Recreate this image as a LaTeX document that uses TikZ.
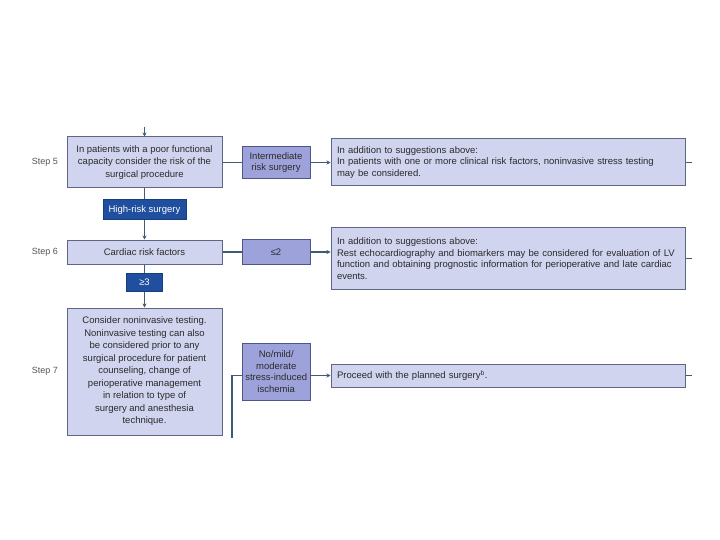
\documentclass[tikz,border=0pt]{standalone}
\usepackage{xcolor}
\usepackage{fontspec}
\setmainfont{Liberation Sans}
\usepackage{tikz}
\usetikzlibrary{positioning,arrows.meta}
\definecolor{boxfill}{HTML}{D0D4EE}
\definecolor{boxline}{HTML}{5E6585}
\definecolor{midfill}{HTML}{9DA3DA}
\definecolor{midline}{HTML}{4C5788}
\definecolor{darkfill}{HTML}{1F4F9E}
\definecolor{darkline}{HTML}{173D7A}
\definecolor{linkcol}{HTML}{405A78}
\definecolor{txt}{HTML}{2B2B2B}
\tikzset{
  >={Stealth[length=4pt,width=4pt]},
  stepbox/.style={draw=boxline, fill=boxfill, line width=1pt, minimum width=155pt, align=center, text=txt, font=\fontsize{9.5}{12.5}\selectfont},
  midbox/.style={draw=midline, fill=midfill, line width=1pt, minimum width=68pt, align=center, text=txt, font=\fontsize{9.5}{11.5}\selectfont},
  darkbox/.style={draw=darkline, fill=darkfill, line width=1pt, text=white, align=center, font=\fontsize{9.5}{11.5}\selectfont},
  notebox/.style={draw=boxline, fill=boxfill, line width=1pt, text width=342pt, inner xsep=6pt, align=left, text=txt, font=\fontsize{9.5}{11.5}\selectfont},
  steplabel/.style={text=txt!80, font=\fontsize{9}{11}\selectfont},
  link/.style={draw=linkcol, line width=1.2pt}
}

\begin{document}
\begin{tikzpicture}[x=1pt, y=-1pt]
\useasboundingbox (0,0) rectangle (720,540);

% left column
\node[stepbox, minimum height=51pt] (s5) at (144.5,162.5) {In patients with a poor functional\\capacity consider the risk of the\\surgical procedure};
\node[darkbox, minimum width=83pt, minimum height=20pt, below=11pt of s5] (high) {High-risk surgery};
\node[stepbox, minimum height=24pt, below=19pt of high] (s6) {Cardiac risk factors};
\node[darkbox, minimum width=36pt, minimum height=18pt, below=8pt of s6] (ge3) {≥3};
\node[stepbox, minimum height=127pt, below=16pt of ge3] (s7) {Consider noninvasive testing.\\Noninvasive testing can also\\be considered prior to any\\surgical procedure for patient\\counseling, change of\\perioperative management\\in relation to type of\\surgery and anesthesia\\technique.};

\node[steplabel, left=5pt of s5] (l5) {Step 5};
\node[steplabel, left=5pt of s6] (l6) {Step 6};
\node[steplabel, left=5pt of s7] (l7) {Step 7};

% middle column
\node[midbox, minimum height=32pt, right=19pt of s5] (inter) {Intermediate\\risk surgery};
\node[midbox, minimum height=25pt, right=19pt of s6] (le2) {≤2};
\node[midbox, minimum height=57pt, right=19pt of s7] (nomild) {No/mild/\\moderate\\stress-induced\\ischemia};

% right column
\node[notebox, minimum height=47pt, right=20pt of inter] (r1) {In addition to suggestions above:\\In patients with one or more clinical risk factors, noninvasive stress testing\\may be considered.};
\node[notebox, minimum height=61pt, below=41pt of r1] (r2) {In addition to suggestions above:\\Rest echocardiography and biomarkers may be considered for evaluation of LV\\function and obtaining prognostic information for perioperative and late cardiac\\events.};
\node[notebox, minimum height=23pt, below=74pt of r2] (r3) {Proceed with the planned surgery\textsuperscript{b}.};

% free ends
\coordinate (top) at (144.5,127);
\coordinate (e1) at ([xshift=6pt]r1.east);
\coordinate (e2) at ([xshift=6pt]r2.east);
\coordinate (e3) at ([xshift=6pt]r3.east);
\coordinate (foot) at (232,438);

\draw[link, ->] (top) -- (s5);
\draw[link] (s5) -- (high);
\draw[link, ->] (high) -- (s6);
\draw[link] (s6) -- (ge3);
\draw[link, ->] (ge3) -- (s7);

\draw[link] (s5) -- (inter);
\draw[link, ->] (inter) -- (r1);
\draw[link] (s6) -- (le2);
\draw[link, ->] (le2.east) -- (le2.east -| r2.west);
\draw[link, ->] (nomild.east |- r3.west) -- (r3.west);
\draw[link] (nomild.west |- r3.west) -| (foot);

\draw[link] (r1) -- (e1);
\draw[link] (r2) -- (e2);
\draw[link] (r3) -- (e3);
\end{tikzpicture}
\end{document}
